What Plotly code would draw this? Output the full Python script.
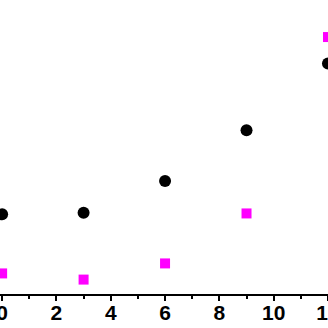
import plotly.graph_objects as go

x_vals = [0, 3, 6, 9, 12]
circle_vals = [27.1, 27.6, 38.4, 55.7, 78.4]
square_vals = [7.0, 4.9, 10.4, 27.4, 87.4]
tick_vals = [0, 2, 4, 6, 8, 10, 12]
tick_text = ["0", "2", "4", "6", "8", "10", "12"]

fig = go.Figure()
fig.add_trace(go.Scatter(x=x_vals, y=circle_vals, mode="markers",
                         marker=dict(symbol="circle", size=12, color="#000000"),
                         showlegend=False))
fig.add_trace(go.Scatter(x=x_vals, y=square_vals, mode="markers",
                         marker=dict(symbol="square", size=10, color="#FF00FF"),
                         showlegend=False))

fig.update_layout(
    width=328, height=328,
    margin=dict(l=0, r=0, t=0, b=34, pad=0),
    paper_bgcolor="white", plot_bgcolor="white",
    xaxis=dict(range=[-0.078, 12.0005], tickvals=tick_vals, ticktext=tick_text,
               showgrid=False, zeroline=False, showline=True, linecolor="black",
               linewidth=2, ticks="outside", ticklen=5, tickwidth=2, tickcolor="black",
               tickfont=dict(family="Liberation Sans, Arial", size=21, color="black", weight="bold"),
               ticklabeloverflow="allow", ticklabelstandoff=-6,
               minor=dict(dtick=1, tick0=0, ticks="outside", ticklen=3, tickwidth=1.5, tickcolor="black"),
               automargin=False, fixedrange=True),
    yaxis=dict(range=[0, 100], visible=False, showgrid=False, zeroline=False,
               automargin=False, fixedrange=True),
)

fig.write_html("out.html")
